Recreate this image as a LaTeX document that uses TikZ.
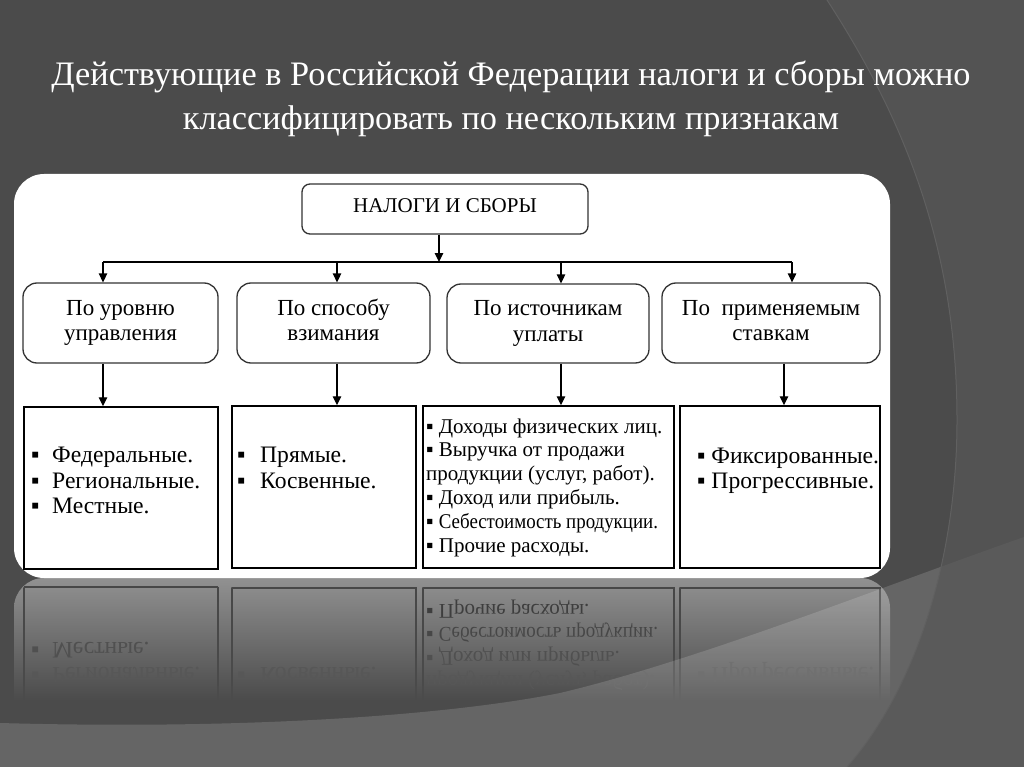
\documentclass[tikz,border=0pt]{standalone}
\usepackage{fontspec}
\setmainfont{Liberation Serif}
\usetikzlibrary{arrows.meta}
\definecolor{bgbase}{HTML}{4B4B4B}
\definecolor{bgband}{HTML}{535353}
\definecolor{bgbandlow}{HTML}{5A5A5A}
\definecolor{arcline}{HTML}{606060}
\definecolor{boxline}{HTML}{333333}
\definecolor{refltop}{HTML}{919191}
\definecolor{refledge}{HTML}{474747}
\definecolor{reflA}{HTML}{3E3E3E}
\definecolor{reflB}{HTML}{474747}
\definecolor{reflC}{HTML}{505050}
\definecolor{reflD}{HTML}{575757}
\newcommand\bul{▪}
\tikzset{
 catbox/.style={draw=boxline, line width=1.3pt, rounded corners=14pt, fill=white, align=center, inner sep=0pt, font=\fontsize{23}{25.5}\selectfont},
 topbox/.style={draw=boxline, line width=1.3pt, rounded corners=8pt, fill=white, inner sep=0pt, font=\fontsize{21}{24}\selectfont},
 listbox/.style={draw=black, line width=1.5pt, fill=white, inner sep=0pt},
 listtext/.style={inner sep=0pt, align=left, anchor=north west, font=\fontsize{23.6}{25.5}\selectfont},
 smalllist/.style={listtext, font=\fontsize{21}{23.8}\selectfont},
 refltext/.style={yscale=-1, anchor=base west, inner sep=0pt, font=\fontsize{23.6}{25.5}\selectfont},
 reflsmall/.style={refltext, font=\fontsize{21}{23.8}\selectfont},
 titletext/.style={text=white, align=center, inner sep=0pt, font=\fontsize{34.3}{44}\selectfont},
 arr/.style={draw=black, line width=1.3pt, -{Triangle[length=9pt,width=8.5pt]}},
 busline/.style={draw=black, line width=1.3pt},
}
\begin{document}
\begin{tikzpicture}[x=1pt,y=-1pt]
\useasboundingbox (0,0) rectangle (1024,767);
% background
\fill[bgbase] (0,0) rectangle (1024,767);
\fill[bgband] (827,0) .. controls (905,120) and (957,250) .. (957,420) .. controls (957,560) and (915,690) .. (847,767) -- (1024,767) -- (1024,0) -- cycle;
% reflection of the panel
\begin{scope}
 \clip (0,578) rectangle (1024,700);
 \clip[rounded corners=30pt] (14,578) rectangle (890,820);
 \shade[top color=refltop, bottom color=bgbase] (0,578) rectangle (1024,700);
\end{scope}
\foreach \x in {24,218,232,416,423,674,680,880} {
 \shade[top color=refledge, bottom color=bgbase] ({\x-0.75},587) rectangle ({\x+0.75},700);
}
\draw[refledge, line width=1.5pt] (24,587) -- (218,587) (232,588) -- (416,588) (423,588) -- (674,588) (680,588) -- (880,588);
\node[refltext, text=reflC] (rmest) at (31,642.3) {\makebox[21pt][l]{\bul}Местные.};
\node[refltext, text=reflD] (rreg) at (31,667.8) {\makebox[21pt][l]{\bul}Региональные.};
\node[refltext, text=reflD] (rkos) at (237,667.8) {\makebox[23pt][l]{\bul}Косвенные.};
\node[reflsmall, text=reflA] (rpro) at (426,604) {\bul\ Прочие расходы.};
\node[reflsmall, text=reflB] (rseb) at (426,627.8) {\bul\ \scalebox{0.9}[1]{Себестоимость продукции.}};
\node[reflsmall, text=reflC] (rdoh) at (426,651.6) {\bul\ Доход или прибыль.};
\node[reflsmall, text=reflD] (rprod) at (426,675.4) {продукции (услуг, работ).};
\node[refltext, text=reflD] (rprog) at (697,667.5) {\bul\ Прогрессивные.};
% lower light region
\begin{scope}
 \clip (0,0) -- (827,0) .. controls (905,120) and (957,250) .. (957,420) .. controls (957,560) and (915,690) .. (847,767) -- (0,767) -- cycle;
 \fill[white, opacity=.15] (0,723) .. controls (250,730) and (450,715) .. (560,693) .. controls (700,660) and (900,580) .. (1024,537) -- (1024,767) -- (0,767) -- cycle;
\end{scope}
\begin{scope}
 \clip (827,0) .. controls (905,120) and (957,250) .. (957,420) .. controls (957,560) and (915,690) .. (847,767) -- (1024,767) -- (1024,0) -- cycle;
 \fill[bgbandlow] (0,723) .. controls (250,730) and (450,715) .. (560,693) .. controls (700,660) and (900,580) .. (1024,537) -- (1024,767) -- (0,767) -- cycle;
\end{scope}
\draw[arcline, line width=1pt] (827,0) .. controls (905,120) and (957,250) .. (957,420) .. controls (957,560) and (915,690) .. (847,767);
% title
\node[titletext, anchor=north] (title) at (511,54.2) {\strut Действующие в Российской Федерации налоги и сборы можно\\ \strut классифицировать по нескольким признакам};
% panel
\fill[white, rounded corners=30pt] (14,174) rectangle (890,578);
% diagram
\node[topbox, minimum width=286pt, minimum height=50pt] (top) at (445,209) {\raisebox{-3.3pt}[0pt][0pt]{НАЛОГИ И СБОРЫ}};
\node[catbox, minimum width=195pt, minimum height=80pt] (lev) at (120.5,323) {\strut По уровню\\\strut управления};
\node[catbox, minimum width=193pt, minimum height=80pt] (way) at (333.5,323) {\strut По способу\\\strut взимания};
\node[catbox, minimum width=202pt, minimum height=79pt] (src) at (548,323.5) {\strut По источникам\\\strut уплаты};
\node[catbox, minimum width=218pt, minimum height=80pt] (rate) at (771,323) {\strut По\ \ применяемым\\\strut ставкам};
\node[listbox, minimum width=194pt, minimum height=162pt] (fed) at (121,488) {};
\node[listbox, minimum width=184pt, minimum height=162pt] (spo) at (324,487) {};
\node[listbox, minimum width=251pt, minimum height=162pt] (ist) at (548.5,487) {};
\node[listbox, minimum width=200pt, minimum height=162pt] (sta) at (780,487) {};
\node[listtext] (fedtext) at (31,444.8) {\strut\makebox[21pt][l]{\bul}Федеральные.\\ \strut\makebox[21pt][l]{\bul}Региональные.\\ \strut\makebox[21pt][l]{\bul}Местные.};
\node[listtext] (spotext) at (237,444.8) {\strut\makebox[23pt][l]{\bul}Прямые.\\ \strut\makebox[23pt][l]{\bul}Косвенные.};
\node[smalllist] (isttext) at (426,416.3) {\strut\bul\ Доходы физических лиц.\\ \strut\bul\ Выручка от продажи\\ \strut продукции (услуг, работ).\\ \strut\bul\ Доход или прибыль.\\ \strut\bul\ \scalebox{0.9}[1]{Себестоимость продукции.}\\ \strut\bul\ Прочие расходы.};
\node[listtext] (statext) at (697,445.1) {\strut\bul\ Фиксированные.\\ \strut\bul\ Прогрессивные.};
\coordinate (busL) at (103,262);
\coordinate (busR) at (792,262);
\coordinate (busM) at (439,262);
\coordinate (colB) at (337,262);
\coordinate (colC) at (561,262);
\coordinate (colD) at (784,262);
\draw[busline] (busL) -- (busR);
\draw[arr] (busM |- top.south) -- (busM);
\draw[arr] (busL) -- (busL |- lev.north);
\draw[arr] (colB) -- (colB |- way.north);
\draw[arr] (colC) -- (colC |- src.north);
\draw[arr] (busR) -- (busR |- rate.north);
\draw[arr] (busL |- lev.south) -- (busL |- fed.north);
\draw[arr] (colB |- way.south) -- (colB |- spo.north);
\draw[arr] (colC |- src.south) -- (colC |- ist.north);
\draw[arr] (colD |- rate.south) -- (colD |- sta.north);
\end{tikzpicture}
\end{document}
